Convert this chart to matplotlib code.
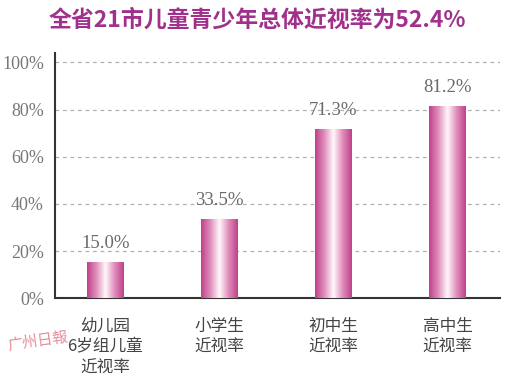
import numpy as np
import matplotlib
matplotlib.use("Agg")
import matplotlib.pyplot as plt
from matplotlib.colors import LinearSegmentedColormap

plt.rcParams['font.family'] = ['Noto Sans CJK SC', 'DejaVu Sans']

categories = ["幼儿园\n6岁组儿童\n近视率", "小学生\n近视率", "初中生\n近视率", "高中生\n近视率"]
values = [15.0, 33.5, 71.3, 81.2]
value_labels = ["15.0%", "33.5%", "71.3%", "81.2%"]
yticks = [0, 20, 40, 60, 80, 100]
ytick_labels = ["0%", "20%", "40%", "60%", "80%", "100%"]
title = "全省21市儿童青少年总体近视率为52.4%"

fig = plt.figure(figsize=(5.05, 3.76), dpi=100)
ax = fig.add_axes([0.109, 0.207, 0.881, 0.652])
ax.set_xlim(-0.44, 3.46)
ax.set_ylim(0, 104)

cmap = LinearSegmentedColormap.from_list("pinkgrad", ["#c0408a", "#e08dbb", "#fff8fb", "#e08dbb", "#c0408a"])
grad = np.linspace(0, 1, 256).reshape(1, -1)
width = 0.32
x = np.arange(len(values))
for i, v in enumerate(values):
    ax.imshow(grad, cmap=cmap, aspect='auto', extent=(x[i] - width/2, x[i] + width/2, 0, v), zorder=3)
    ax.text(x[i], v + 4.5, value_labels[i], ha='center', va='bottom', fontsize=13.5,
            family=['Liberation Serif'], color='#6a6a6a', zorder=4)

for t in yticks[1:]:
    ax.axhline(t, color='#b0b0b0', linestyle=(0, (3, 3)), linewidth=0.9, zorder=1)

ax.set_yticks(yticks)
ax.set_yticklabels(ytick_labels, family=['Liberation Serif'], fontsize=13, color='#777777')
ax.set_xticks(x)
ax.set_xticklabels(categories, fontsize=12, color='#444444', linespacing=1.3, va='top')
ax.tick_params(axis='both', length=0)
ax.tick_params(axis='y', pad=8)
ax.tick_params(axis='x', pad=14)
for s in ['top', 'right']:
    ax.spines[s].set_visible(False)
ax.spines['left'].set_color('#333333')
ax.spines['bottom'].set_color('#333333')
ax.spines['left'].set_linewidth(1.5)
ax.spines['bottom'].set_linewidth(1.5)

fig.text(0.51, 0.945, title, ha='center', va='center', fontsize=16.5, fontweight='bold', color='#a0308c')
fig.text(0.075, 0.095, "广州日報", ha='center', va='center', fontsize=11, color='#e07080', style='italic', alpha=0.8, rotation=8)

fig.savefig("out.png", dpi=100)
